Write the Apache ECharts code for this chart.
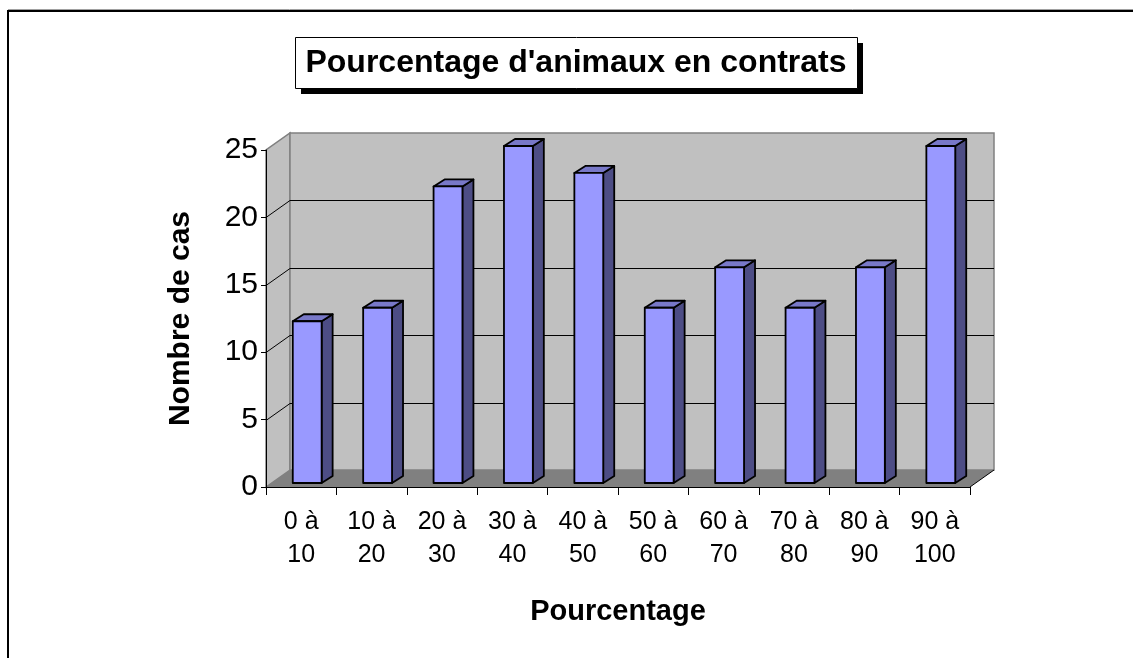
<!DOCTYPE html>
<html>
<head>
<meta charset="utf-8">
<script src="https://cdn.jsdelivr.net/npm/echarts@6/dist/echarts.min.js"></script>
<style>
  html, body { margin: 0; padding: 0; background: #fff; }
  #chart { width: 1133px; height: 658px; }
</style>
</head>
<body>
<div id="chart"></div>
<script>
// Pourcentage d'animaux en contrats — histogramme 3D façon Excel

const categories = ["0 à\n10", "10 à\n20", "20 à\n30", "30 à\n40", "40 à\n50",
  "50 à\n60", "60 à\n70", "70 à\n80", "80 à\n90", "90 à\n100"];
const nombreCas = [12, 13, 22, 25, 23, 13, 16, 13, 16, 25];
const yTicks = [0, 5, 10, 15, 20, 25];

const FONT = "'Liberation Sans', Arial, sans-serif";
// profondeur de la scène (murs) et des barres
const DEPTH_X = 24, DEPTH_Y = -17;
const BAR_SHIFT_X = 6, BAR_SHIFT_Y = -4;
const BAR_DX = 11, BAR_DY = -7;

const chart = echarts.init(document.getElementById("chart"));

function renderWalls(params, api) {
  const cs = params.coordSys;
  const x = cs.x, y = cs.y, w = cs.width, h = cs.height;
  const bottom = y + h;
  const children = [
    {
      type: "polygon",
      shape: { points: [[x, bottom], [x, y], [x + DEPTH_X, y + DEPTH_Y], [x + DEPTH_X, bottom + DEPTH_Y]] },
      style: { fill: "#c0c0c0", stroke: "#808080", lineWidth: 1.5 },
    },
    {
      type: "polygon",
      shape: { points: [[x + DEPTH_X, y + DEPTH_Y], [x + w + DEPTH_X, y + DEPTH_Y],
        [x + w + DEPTH_X, bottom + DEPTH_Y], [x + DEPTH_X, bottom + DEPTH_Y]] },
      style: { fill: "#c0c0c0", stroke: "#808080", lineWidth: 1.5 },
    },
    {
      type: "polygon",
      shape: { points: [[x, bottom], [x + w, bottom], [x + w + DEPTH_X, bottom + DEPTH_Y], [x + DEPTH_X, bottom + DEPTH_Y]] },
      style: { fill: "#808080", stroke: null },
    },
    {
      type: "line",
      shape: { x1: x + w, y1: bottom, x2: x + w + DEPTH_X, y2: bottom + DEPTH_Y },
      style: { stroke: "#000", lineWidth: 1 },
    },
  ];
  yTicks.slice(1, -1).forEach((v) => {
    const py = Math.round(api.coord([0, v])[1]) + 0.5;
    children.push({
      type: "polyline",
      shape: { points: [[x, py], [x + DEPTH_X, py + DEPTH_Y], [x + w + DEPTH_X, py + DEPTH_Y]] },
      style: { stroke: "#000", lineWidth: 1, fill: null },
    });
  });
  return { type: "group", children };
}

function renderBar(params, api) {
  const idx = api.value(0);
  const top = api.coord([idx, api.value(1)]);
  const base = api.coord([idx, 0]);
  const band = api.size([1, 0])[0];
  const bw = band * 0.41;
  const x0 = top[0] - bw / 2 + BAR_SHIFT_X;
  const x1 = x0 + bw;
  const yt = top[1] + BAR_SHIFT_Y;
  const yb = base[1] + BAR_SHIFT_Y;
  const edge = { stroke: "#000", lineWidth: 1.8, lineJoin: "round" };
  return {
    type: "group",
    children: [
      {
        type: "polygon",
        shape: { points: [[x1, yt], [x1 + BAR_DX, yt + BAR_DY], [x1 + BAR_DX, yb + BAR_DY], [x1, yb]] },
        style: { fill: "#4d4d85", ...edge },
      },
      {
        type: "polygon",
        shape: { points: [[x0, yt], [x0 + BAR_DX, yt + BAR_DY], [x1 + BAR_DX, yt + BAR_DY], [x1, yt]] },
        style: { fill: "#7878c8", ...edge },
      },
      {
        type: "rect",
        shape: { x: x0, y: yt, width: bw, height: yb - yt },
        style: { fill: "#9999ff", ...edge },
      },
    ],
  };
}

chart.setOption({
  backgroundColor: "#fff",
  animation: false,
  grid: { left: 266, right: 163, top: 150, bottom: 171 },
  xAxis: {
    type: "category",
    data: categories,
    name: "Pourcentage",
    nameLocation: "middle",
    nameGap: 110,
    nameTextStyle: { fontFamily: FONT, fontSize: 29, fontWeight: "bold", color: "#000" },
    axisLine: { lineStyle: { color: "#000", width: 1 } },
    axisTick: { show: true, length: 8, lineStyle: { color: "#000" } },
    axisLabel: { fontFamily: FONT, fontSize: 25, lineHeight: 33, color: "#000", margin: 19, interval: 0 },
    z: 5,
  },
  yAxis: {
    type: "value",
    min: 0,
    max: 25,
    interval: 5,
    name: "Nombre de cas",
    nameLocation: "middle",
    nameGap: 70,
    nameRotate: 90,
    nameTextStyle: { fontFamily: FONT, fontSize: 30, fontWeight: "bold", color: "#000" },
    axisLine: { show: true, lineStyle: { color: "#000", width: 1 } },
    axisTick: { show: true, length: 5, lineStyle: { color: "#000" } },
    axisLabel: { fontFamily: FONT, fontSize: 30, color: "#000", margin: 8 },
    splitLine: { show: false },
    z: 5,
  },
  series: [
    {
      type: "custom",
      renderItem: renderWalls,
      data: [[0, 0]],
      silent: true,
      z: 1,
    },
    {
      type: "custom",
      renderItem: renderBar,
      data: nombreCas.map((v, i) => [i, v]),
      z: 3,
    },
  ],
  graphic: [
    {
      type: "line",
      shape: { x1: 8, y1: 9.5, x2: 1140, y2: 9.5 },
      style: { stroke: "#a0a0a0", lineWidth: 1 },
      z: 0,
    },
    {
      type: "rect",
      shape: { x: 8, y: 11, width: 1200, height: 700 },
      style: { fill: null, stroke: "#000", lineWidth: 2 },
      z: 0,
    },
    {
      type: "rect",
      shape: { x: 301, y: 43, width: 562, height: 51 },
      style: { fill: "#000" },
      z: 10,
    },
    {
      type: "rect",
      shape: { x: 295.5, y: 37.5, width: 562, height: 51 },
      style: { fill: "#fff", stroke: "#000", lineWidth: 1 },
      z: 11,
    },
    {
      type: "text",
      x: 576,
      y: 63,
      style: {
        text: "Pourcentage d'animaux en contrats",
        font: "bold 32px " + FONT,
        fill: "#000",
        align: "center",
        verticalAlign: "middle",
      },
      z: 12,
    },
  ],
});
</script>
</body>
</html>
